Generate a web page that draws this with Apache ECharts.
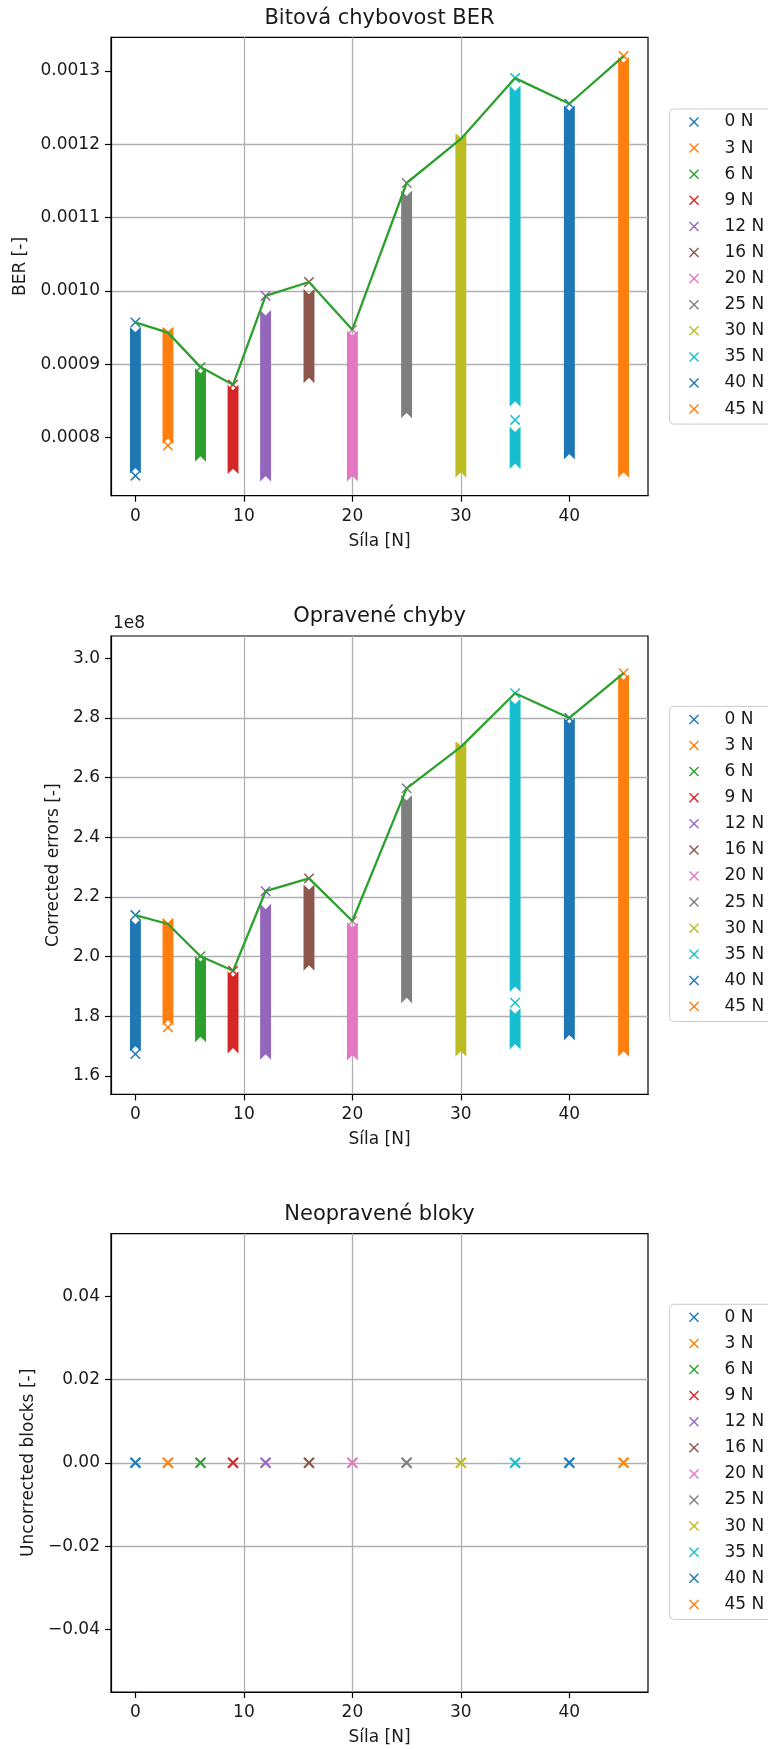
<!DOCTYPE html>
<html>
<head>
<meta charset="utf-8">
<script src="https://cdn.jsdelivr.net/npm/echarts@6/dist/echarts.min.js"></script>
<style>
html, body { margin: 0; padding: 0; background: #ffffff; }
#chart { width: 768px; height: 1749px; }
</style>
</head>
<body>
<div id="chart"></div>
<script>
// ---------------- data ----------------
const forces = [0, 3, 6, 9, 12, 16, 20, 25, 30, 35, 40, 45];
const seriesNames = ['0 N', '3 N', '6 N', '9 N', '12 N', '16 N', '20 N', '25 N', '30 N', '35 N', '40 N', '45 N'];
const forceTicks = [0, 10, 20, 30, 40];

// Bitová chybovost BER
const berMax = [0.000957, 0.000943, 0.000896, 0.000872, 0.000993, 0.001012, 0.000947, 0.001147, 0.001207, 0.001290, 0.001255, 0.001320];
// dense runs of measured points [lowest, highest]
const berRuns = [
  [[0.000760, 0.000942]],
  [[0.000800, 0.000942]],
  [[0.000776, 0.000886]],
  [[0.000759, 0.000863]],
  [[0.000749, 0.000965]],
  [[0.000883, 0.000994]],
  [[0.000749, 0.000937]],
  [[0.000835, 0.001128]],
  [[0.000754, 0.001205]],
  [[0.000851, 0.001271], [0.000766, 0.000806]],
  [[0.000779, 0.001244]],
  [[0.000754, 0.001310]]
];
// isolated points
const berSingles = [[0.000748], [0.000789], [], [], [], [], [], [], [], [0.000824], [], []];
const berTicks = [0.0008, 0.0009, 0.0010, 0.0011, 0.0012, 0.0013];

// Opravené chyby
const corrMax = [2.139e8, 2.109e8, 2.001e8, 1.952e8, 2.219e8, 2.262e8, 2.119e8, 2.564e8, 2.703e8, 2.883e8, 2.800e8, 2.950e8];
const corrRuns = [
  [[1.703e8, 2.105e8]],
  [[1.790e8, 2.108e8]],
  [[1.734e8, 1.980e8]],
  [[1.697e8, 1.929e8]],
  [[1.676e8, 2.155e8]],
  [[1.974e8, 2.220e8]],
  [[1.673e8, 2.093e8]],
  [[1.865e8, 2.520e8]],
  [[1.686e8, 2.698e8]],
  [[1.903e8, 2.843e8], [1.710e8, 1.805e8]],
  [[1.740e8, 2.778e8]],
  [[1.686e8, 2.925e8]]
];
const corrSingles = [[1.673e8], [1.763e8], [], [], [], [], [], [], [], [1.845e8], [], []];
const corrTicks = [1.6e8, 1.8e8, 2.0e8, 2.2e8, 2.4e8, 2.6e8, 2.8e8, 3.0e8];

// Neopravené bloky
const uncValues = [0, 0, 0, 0, 0, 0, 0, 0, 0, 0, 0, 0];
const uncTicks = [-0.04, -0.02, 0, 0.02, 0.04];

// ---------------- style ----------------
const palette = ['#1f77b4', '#ff7f0e', '#2ca02c', '#d62728', '#9467bd', '#8c564b', '#e377c2', '#7f7f7f', '#bcbd22', '#17becf', '#1f77b4', '#ff7f0e'];
const lineColor = '#2ca02c';
const FONT = 'DejaVu Sans';
const TXT = '#1a1a1a';
const GL = 111, GW = 537, GH = 458.4;
const tops = [37.3, 636, 1233.6];
const XPATH = 'path://M0,1L1,0L5,4L9,0L10,1L6,5L10,9L9,10L5,6L1,10L0,9L4,5Z';

function makeRender(h, lw) {
  return function (params, api) {
    const x = api.value(0), lo = api.value(1), hi = api.value(2), kind = api.value(3);
    const pLo = api.coord([x, lo]);
    const pHi = api.coord([x, hi]);
    const color = api.visual('color');
    if (kind === 0) {
      const cx = pLo[0], yb = pLo[1], yt = pHi[1];
      return {
        type: 'polygon',
        shape: { points: [[cx - h, yt - h], [cx, yt], [cx + h, yt - h], [cx + h, yb + h], [cx, yb], [cx - h, yb + h]] },
        style: { fill: color, stroke: color, lineWidth: lw }
      };
    }
    const cx = pHi[0], cy = pHi[1];
    return {
      type: 'group',
      children: [
        { type: 'line', shape: { x1: cx - h, y1: cy - h, x2: cx + h, y2: cy + h }, style: { stroke: color, lineWidth: lw } },
        { type: 'line', shape: { x1: cx - h, y1: cy + h, x2: cx + h, y2: cy - h }, style: { stroke: color, lineWidth: lw } }
      ]
    };
  };
}

function columnSeries(gi, runs, singles, maxes) {
  return forces.map((f, i) => {
    const data = [];
    runs[i].forEach(r => data.push([f, r[0], r[1], 0]));
    singles[i].forEach(v => data.push([f, v, v, 1]));
    data.push([f, maxes[i], maxes[i], 1]);
    return {
      type: 'custom', name: seriesNames[i], xAxisIndex: gi, yAxisIndex: gi,
      itemStyle: { color: palette[i] }, renderItem: makeRender(4.7, 1.5),
      encode: { x: 0, y: [1, 2] }, data: data, z: 2, silent: true
    };
  });
}

function pointSeries(gi, values) {
  return forces.map((f, i) => ({
    type: 'custom', name: seriesNames[i], xAxisIndex: gi, yAxisIndex: gi,
    itemStyle: { color: palette[i] }, renderItem: makeRender(5, 2.2),
    encode: { x: 0, y: [1, 2] }, data: [[f, values[i], values[i], 1]], z: 2, silent: true
  }));
}

function lineSeries(gi, maxes) {
  return {
    type: 'line', name: 'max', xAxisIndex: gi, yAxisIndex: gi,
    data: forces.map((f, i) => [f, maxes[i]]), symbol: 'none',
    lineStyle: { color: lineColor, width: 2.3 }, itemStyle: { color: lineColor },
    z: 5, silent: true
  };
}

function xAx(gi) {
  return {
    type: 'value', gridIndex: gi, min: -2.25, max: 47.25, splitNumber: 5,
    name: 'Síla [N]', nameLocation: 'middle', nameGap: 37,
    nameTextStyle: { fontFamily: FONT, fontSize: 17, color: TXT },
    axisLine: { show: true, onZero: false, lineStyle: { color: '#000', width: 1.2 } },
    axisTick: { show: true, customValues: forceTicks, length: 6, lineStyle: { color: '#000', width: 1.2 } },
    axisLabel: { customValues: forceTicks, margin: 12, fontFamily: FONT, fontSize: 17, color: TXT, formatter: v => String(v) },
    splitLine: { show: true, showMinLine: false, showMaxLine: false, lineStyle: { color: '#b0b0b0', width: 1.3 } }
  };
}

function yAx(gi, min, max, split, ticks, name, gap, fmt) {
  return {
    type: 'value', gridIndex: gi, min: min, max: max, splitNumber: split,
    name: name, nameLocation: 'middle', nameGap: gap,
    nameTextStyle: { fontFamily: FONT, fontSize: 17, color: TXT },
    axisLine: { show: true, onZero: false, lineStyle: { color: '#000', width: 1.2 } },
    axisTick: { show: true, customValues: ticks, length: 6, lineStyle: { color: '#000', width: 1.2 } },
    axisLabel: { customValues: ticks, margin: 11, fontFamily: FONT, fontSize: 17, color: TXT, formatter: fmt },
    splitLine: { show: true, showMinLine: false, showMaxLine: false, lineStyle: { color: '#b0b0b0', width: 1.3 } }
  };
}

function legendAt(top) {
  return {
    orient: 'vertical', align: 'left', left: 669.6, top: top, padding: [4.5, 10, 6.5, 19.4],
    itemWidth: 10, itemHeight: 10, itemGap: 9.1, selectedMode: false, symbolKeepAspect: true,
    backgroundColor: '#ffffff', borderColor: '#cccccc', borderWidth: 1, borderRadius: 4,
    textStyle: { fontFamily: FONT, fontSize: 17, color: TXT, padding: [0, 0, 0, 20.5] },
    data: seriesNames.map(n => ({ name: n, icon: XPATH }))
  };
}

function titleText(text, y) {
  return {
    type: 'text', x: GL + GW / 2, y: y, z: 10,
    style: { text: text, font: '21px "DejaVu Sans"', fill: TXT, align: 'center', verticalAlign: 'middle', textAlign: 'center', textVerticalAlign: 'middle' }
  };
}

const grids = tops.map(t => ({
  left: GL, top: t, width: GW, height: GH, show: true,
  borderColor: '#000', borderWidth: 1.2, backgroundColor: 'transparent', outerBoundsMode: 'none'
}));

const option = {
  animation: false,
  backgroundColor: '#ffffff',
  grid: grids,
  xAxis: [xAx(0), xAx(1), xAx(2)],
  yAxis: [
    yAx(0, 0.0007207, 0.0013456, 6, berTicks, 'BER [-]', 82, v => v.toFixed(4)),
    yAx(1, 1.5376e8, 3.0748e8, 8, corrTicks, 'Corrected errors [-]', 47, v => (v / 1e8).toFixed(1)),
    yAx(2, -0.055, 0.055, 5, uncTicks, 'Uncorrected blocks [-]', 72, v => (v < 0 ? '\u2212' : '') + Math.abs(v).toFixed(2))
  ],
  legend: [legendAt(109), legendAt(706.4), legendAt(1304.3)],
  graphic: [
    titleText('Bitová chybovost BER', 19),
    titleText('Opravené chyby', 616.5),
    titleText('Neopravené bloky', 1215),
    { type: 'text', x: 113, y: 624, z: 10,
      style: { text: '1e8', font: '17px "DejaVu Sans"', fill: TXT, align: 'left', verticalAlign: 'middle', textAlign: 'left', textVerticalAlign: 'middle' } }
  ],
  series: [].concat(
    columnSeries(0, berRuns, berSingles, berMax),
    [lineSeries(0, berMax)],
    columnSeries(1, corrRuns, corrSingles, corrMax),
    [lineSeries(1, corrMax)],
    pointSeries(2, uncValues)
  )
};

const chart = echarts.init(document.getElementById('chart'), null, { renderer: 'canvas' });
chart.setOption(option);
</script>
</body>
</html>
